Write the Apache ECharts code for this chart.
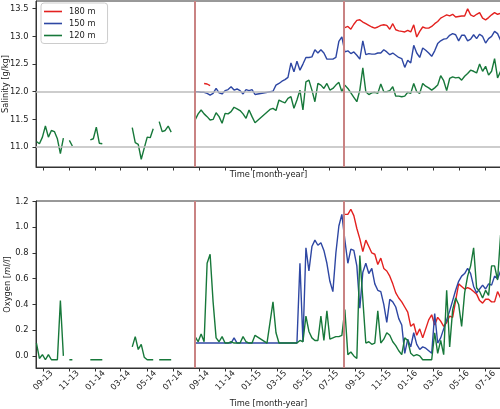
<!DOCTYPE html>
<html>
<head>
<meta charset="utf-8">
<script src="https://cdn.jsdelivr.net/npm/echarts@6/dist/echarts.min.js"></script>
<style>html,body{margin:0;padding:0;background:#fff}#c{width:500px;height:409px}</style>
</head>
<body>
<div id="c"></div>
<script>
const _ = undefined; // week not sampled, line continues
// weekly sampling grid: week index 0 = first week
const firstWeek = '2013-08-16';
const seriesNames = ['180 m', '150 m', '120 m'];
const tickMonths = ['2013-09-01','2013-11-01','2014-01-01','2014-03-01','2014-05-01','2014-07-01',
  '2014-09-01','2014-11-01','2015-01-01','2015-03-01','2015-05-01','2015-07-01',
  '2015-09-01','2015-11-01','2016-01-01','2016-03-01','2016-05-01','2016-07-01'];
const deployments = ['2014-08-20', '2015-08-05'];
const salinityRefLines = [11.0, 12.0];
const salinityTicks = [11.0, 11.5, 12.0, 12.5, 13.0, 13.5];
const oxygenTicks = [0.0, 0.2, 0.4, 0.6, 0.8, 1.0, 1.2];

// segments: [first week index, values...]; separate segments = gaps
const sal180 = [
  [56, [12.15, 12.14, 12.11]],
  [103, [13.16, 13.18, 13.13, 13.22, 13.29, 13.30, 13.26,
    13.23, 13.20, 13.17, 13.15, 13.17, 13.20, 13.21, 13.20, 13.13, 13.23,
    13.12, 13.10, 13.09, 13.08, 13.11, 13.08, 13.21, 12.99, 13.09, 13.17,
    13.15, 13.15, 13.18, 13.23, 13.27, 13.33, 13.36, 13.39, 13.37, 13.40,
    13.35, 13.36, 13.37, 13.37, 13.50, 13.39, 13.36, 13.40, 13.43, 13.33,
    13.30, 13.34, 13.39, 13.43, 13.40, 13.42]]
];
const sal150 = [
  [53, [12.00, 12.00, 11.99, 11.99, 11.97, 11.94, 11.97,
    12.06, 11.98, 11.96, 12.02, 12.04, 12.09, 12.03, 12.05, 12.02, 11.96,
    12.04, 12.02, 12.04, 11.95, _, _, _, _, _, 12.01,
    12.12, 12.15, 12.19, 12.22, 12.26, 12.52, 12.36, 12.55, 12.39, 12.50,
    12.62, 12.62, 12.63, 12.76, 12.70, 12.76, 12.70, 12.59, _, 12.59,
    12.62, 12.91, 12.99, 12.72, 12.74, 12.69, 12.72, 12.66, 12.59, 12.92,
    12.67, 12.69, 12.68, 12.68, 12.70, 12.70, 12.76, 12.72, 12.67, 12.70,
    12.66, 12.62, 12.60, 12.44, 12.57, 12.52, 12.84, 12.70, 12.62, 12.79,
    12.75, 12.70, 12.64, 12.74, 12.87, 12.92, 12.95, 12.96, 13.02, 13.05,
    13.03, 12.92, 13.02, 13.02, 12.92, 12.95, 13.03, 12.96, 13.04, 13.00,
    12.88, 12.96, 13.00, 13.09, 13.05, 12.93]]
];
const sal120 = [
  [0, [11.10, 11.06, 11.18, 11.38, 11.18, 11.30, 11.28, 11.15, 10.88, 11.16]],
  [11, [11.12, 11.02]],
  [18, [11.13, 11.15, 11.36, 11.07, 11.06]],
  [32, [11.35, 11.08, 11.05, 10.78, 10.98, 11.18, 11.17, 11.33]],
  [41, [11.46, 11.28, 11.30, 11.38, 11.27]],
  [53, [11.49, 11.60, 11.67, 11.60, 11.55, 11.49, 11.50,
    11.62, 11.55, 11.43, 11.61, 11.60, 11.64, 11.72, 11.69, 11.66, 11.60,
    11.52, 11.67, 11.55, 11.44, _, _, _, _, 11.68, 11.70,
    11.66, 11.85, 11.82, 11.80, 11.88, 11.91, 11.70, 11.85, 12.03, 11.67,
    12.18, 12.21, 12.03, 11.82, 12.15, 12.12, 12.06, 12.15, 12.03, 12.06,
    12.12, 12.17, 12.00, 12.12, 12.06, 11.98, 11.90, 11.82, 12.03, 12.43,
    12.00, 11.95, 11.98, 11.99, 11.97, 12.14, 12.00, 12.00, 12.02, 12.09,
    11.92, 11.92, 11.91, 11.92, 11.99, 11.97, 12.15, 12.00, 11.97, 12.15,
    12.10, 12.07, 12.03, 12.07, 12.12, 12.29, 12.20, 12.02, 12.24, 12.27,
    12.25, 12.26, 12.21, 12.28, 12.33, 12.39, 12.37, 12.34, 12.50, 12.37,
    12.46, 12.30, 12.37, 12.60, 12.25, 12.37]]
];
const oxy180 = [
  [103, [1.10, 1.10, 1.14, 1.09, 0.99, 0.91, 0.81,
    0.90, 0.85, 0.80, 0.79, 0.71, 0.76, 0.68, 0.66, 0.62, 0.56,
    0.49, 0.45, 0.42, 0.38, 0.34, 0.23, 0.25, 0.16, 0.21, 0.14,
    0.21, 0.28, 0.32, 0.24, 0.30, 0.27, 0.23, 0.26, 0.31, 0.30,
    0.43, 0.56, 0.54, 0.52, 0.53, 0.52, 0.50, 0.48, 0.43, 0.41,
    0.44, 0.44, 0.42, 0.42, 0.50, 0.45]]
];
const oxy150 = [
  [53, [0.10, _, _, _, _, _, _,
    _, _, _, _, _, 0.10, 0.14, 0.10, _, _,
    _, _, _, _, _, _, _, _, _, _,
    _, _, _, _, _, _, _, 0.10, 0.72, 0.11,
    0.84, 0.66, 0.85, 0.90, 0.86, 0.88, 0.82, 0.72, 0.58, 0.50,
    0.80, 1.01, 1.10, 0.90, 0.72, 0.83, 0.82, 0.70, 0.37, 0.65,
    0.72, 0.64, 0.68, 0.56, 0.51, 0.50, 0.40, 0.26, 0.44, 0.42,
    0.38, 0.29, 0.24, 0.02, 0.13, 0.07, 0.18, 0.09, 0.05, 0.07,
    0.06, 0.04, 0.02, 0.33, 0.10, 0.14, 0.21, 0.28, 0.35, 0.43,
    0.51, 0.58, 0.62, 0.64, 0.68, 0.64, 0.54, 0.49, 0.52, 0.55,
    0.52, 0.56, 0.55, 0.62, 0.60, 0.66]]
];
const oxy120 = [
  [0, [0.10, -0.02, 0.01, -0.03, 0.01, -0.03, -0.03, -0.03, 0.43, 0.00]],
  [11, [-0.03, -0.03]],
  [18, [-0.03, -0.03, -0.03, -0.03, -0.03]],
  [32, [0.07, 0.15, 0.05, 0.09, -0.01, -0.03, -0.03, -0.03]],
  [41, [-0.03, -0.03, -0.03, -0.03, -0.03]],
  [53, [0.15, 0.11, 0.17, 0.11, 0.72, 0.79, 0.42,
    0.14, 0.11, 0.15, 0.10, 0.10, 0.11, 0.10, 0.10, 0.10, 0.15,
    0.11, 0.10, 0.10, 0.16, _, _, _, 0.10, _, 0.42,
    0.18, 0.10, _, _, _, _, _, 0.10, 0.12, 0.11,
    0.31, 0.19, 0.14, 0.12, 0.12, 0.31, 0.12, 0.35, 0.13, 0.14,
    0.15, 0.15, 0.16, 0.36, 0.01, 0.03, 0.00, -0.02, 0.78, 0.44,
    0.10, 0.11, 0.09, 0.10, 0.35, 0.10, 0.13, 0.18, 0.16, 0.11,
    0.08, 0.04, 0.01, 0.14, 0.12, 0.02, 0.00, 0.01, 0.00, -0.03,
    -0.03, -0.03, -0.03, 0.18, 0.02, 0.12, 0.01, 0.51, 0.07, 0.36,
    0.45, 0.40, 0.23, 0.49, 0.62, 0.70, 0.84, 0.53, 0.50, 0.45,
    0.51, 0.47, 0.70, 0.70, 0.59, 0.94]]
];

const DAY = 86400000;
const ts = s => Date.parse(s + 'T00:00:00Z');
const t0 = ts(firstWeek);
const weekT = i => t0 + i * 7 * DAY;
function build(segs) {
  const out = [];
  segs.forEach(([start, vals], k) => {
    if (k > 0) out.push([weekT(start - 0.5), '-']);
    vals.forEach((v, j) => { if (v !== undefined) out.push([weekT(start + j), v]); });
  });
  return out;
}

const FONT = 'DejaVu Sans';
const FS = 8.3;
const TXT = '#222';
const AX = '#333';
const colors = ['#e3211f', '#2e47a3', '#17783a'];
const xMin = ts('2013-08-15'), xMax = ts('2016-08-06');
const tickVals = tickMonths.map(ts);
const pad2 = n => (n < 10 ? '0' : '') + n;
const fmtMonth = v => { const d = new Date(v); return pad2(d.getUTCMonth() + 1) + '-' + String(d.getUTCFullYear()).slice(2); };

function xAxis(gridIndex, showLabels, nameGap) {
  return {
    type: 'value', gridIndex, min: xMin, max: xMax,
    name: 'Time [month-year]', nameLocation: 'middle', nameGap, nameMoveOverlap: false,
    nameTextStyle: { fontSize: FS, color: TXT, fontFamily: FONT },
    axisLine: { show: true, onZero: false, lineStyle: { color: AX, width: 1 } },
    axisTick: { show: true, length: 3.5, customValues: tickVals, lineStyle: { color: AX, width: 1 } },
    axisLabel: { show: showLabels, customValues: tickVals, formatter: fmtMonth, rotate: 45,
      align: 'center', verticalAlign: 'middle', margin: 12.5, fontSize: FS, color: TXT, fontFamily: FONT },
    splitLine: { show: false }
  };
}
function yAxis(gridIndex, min, max, ticks, name, nameGap, rich) {
  return {
    type: 'value', gridIndex, min, max,
    name, nameLocation: 'middle', nameGap, nameMoveOverlap: false,
    nameTextStyle: { fontSize: FS, color: TXT, fontFamily: FONT, rich: rich },
    axisLine: { show: true, onZero: false, lineStyle: { color: AX, width: 1 } },
    axisTick: { show: true, length: 3.5, customValues: ticks, lineStyle: { color: AX, width: 1 } },
    axisLabel: { customValues: ticks, formatter: v => v.toFixed(1), margin: 7.5, fontSize: FS, color: TXT, fontFamily: FONT },
    splitLine: { show: false }
  };
}

const deployLines = {
  silent: true, symbol: ['none', 'none'], label: { show: false },
  lineStyle: { color: '#c98383', width: 2, type: 'solid' },
  data: deployments.map(d => ({ xAxis: ts(d) }))
};
const refLines = {
  silent: true, symbol: ['none', 'none'], label: { show: false },
  lineStyle: { color: '#bdbdbd', width: 1.5, type: 'solid' },
  data: salinityRefLines.map(v => ({ yAxis: v }))
};

function line(name, idx, segs, color, extra) {
  return Object.assign({
    type: 'line', name, xAxisIndex: idx, yAxisIndex: idx, data: build(segs),
    showSymbol: false, symbol: 'none', connectNulls: false,
    lineStyle: { color, width: 1.4 }, itemStyle: { color }
  }, extra || {});
}

const chart = echarts.init(document.getElementById('c'), null, { renderer: 'canvas' });
chart.setOption({
  animation: false,
  textStyle: { fontFamily: FONT },
  grid: [
    { left: 36, right: -1, top: 1, height: 166, show: true, borderColor: AX, borderWidth: 1,
      containLabel: false, outerBoundsMode: 'none' },
    { left: 36, right: -1, top: 201, height: 167, show: true, borderColor: AX, borderWidth: 1,
      containLabel: false, outerBoundsMode: 'none' }
  ],
  legend: {
    data: seriesNames, orient: 'vertical', left: 41, top: 3,
    icon: 'rect', itemWidth: 18, itemHeight: 1.6, itemGap: 2,
    padding: [3.5, 12, 3, 3],
    backgroundColor: 'rgba(255,255,255,0.85)', borderColor: '#cccccc', borderWidth: 1, borderRadius: 3,
    textStyle: { fontSize: FS, color: TXT, fontFamily: FONT, lineHeight: 10, padding: [0, 0, 0, 2] }
  },
  xAxis: [xAxis(0, false, 3.5), xAxis(1, true, 31.5)],
  yAxis: [
    yAxis(0, 10.64, 13.64, salinityTicks, 'Salinity [g/kg]', 26.5),
    yAxis(1, -0.094, 1.204, oxygenTicks, 'Oxygen [{i|ml/l}]', 24.5,
      { i: { fontStyle: 'italic', fontSize: FS, color: TXT, fontFamily: FONT } })
  ],
  series: [
    line(seriesNames[0], 0, sal180, colors[0], { markLine: refLines }),
    line(seriesNames[1], 0, sal150, colors[1]),
    line(seriesNames[2], 0, sal120, colors[2], { markLine: deployLines }),
    line(seriesNames[0], 1, oxy180, colors[0]),
    line(seriesNames[1], 1, oxy150, colors[1]),
    line(seriesNames[2], 1, oxy120, colors[2], { markLine: deployLines })
  ]
});
</script>
</body>
</html>
